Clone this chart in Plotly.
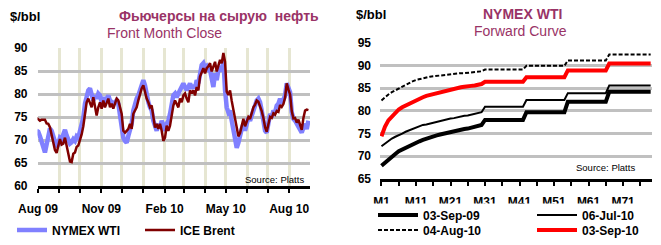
import pandas as pd
import plotly.graph_objects as go

W, H = 661, 245
FONT = "Liberation Sans, Arial, sans-serif"
TITLE_COLOR = "#993366"

# ---------------- Left chart: front month close ----------------
wti = [
    72.0, 71.8, 70.8, 69.5, 68.0, 67.3, 69.0, 71.5, 72.5, 72.0,
    70.8, 69.5, 68.5, 69.0, 70.5, 70.2, 71.5, 72.2, 71.0, 70.0,
    69.2, 69.5, 70.2, 69.8, 70.8, 70.5, 71.8, 73.2, 74.9, 77.9,
    79.7, 80.8, 81.2, 79.7, 78.6, 79.7, 79.0, 80.1, 79.7, 78.2,
    79.3, 78.2, 79.3, 79.7, 78.6, 78.2, 77.9, 78.2, 78.6, 77.9,
    74.9, 72.7, 70.5, 69.8, 69.4, 70.9, 72.0, 73.5, 76.4, 78.2,
    79.0, 79.7, 80.8, 82.3, 83.0, 81.9, 79.7, 78.2, 77.1, 76.4,
    74.2, 73.1, 72.0, 73.5, 72.7, 74.2, 72.7, 72.0, 73.5, 74.2,
    75.7, 77.9, 79.7, 80.1, 79.3, 80.1, 80.8, 81.2, 82.3, 81.5,
    80.8, 81.5, 82.3, 81.2, 81.9, 81.2, 83.0, 82.3, 84.5, 86.3,
    86.7, 85.6, 86.0, 85.2,
    85.2, 83.8, 81.5, 84.5, 83.0, 85.2, 86.0, 84.9, 87.4, 80.8,
    77.1, 76.0, 76.4, 74.2, 72.0, 69.8, 68.3, 69.4, 71.3, 72.4,
    73.5, 72.0, 73.5, 74.9, 74.2, 75.3, 76.8, 78.2, 78.6, 79.0,
    78.2, 76.4, 74.2, 72.0, 71.6, 74.2, 75.7, 74.9, 76.4, 76.0,
    77.5, 77.9, 79.0, 77.9, 78.6, 79.7, 82.3, 81.2, 80.4, 76.0,
    74.6, 74.2, 73.5, 73.1, 72.0, 71.6, 72.7, 73.5, 72.4, 74.2,
]
brent = [
    74.8, 74.5, 74.2, 74.4, 74.4, 74.4, 73.6, 73.5, 72.8, 71.3,
    69.8, 67.8, 67.2, 68.8, 70.2, 69.0, 69.2, 70.5, 68.8, 67.0,
    65.3, 65.2, 67.0, 67.3, 68.5, 68.8, 69.8, 71.2, 73.0, 76.2,
    78.2, 79.0, 78.2, 77.1, 79.3, 77.5, 75.3, 77.1, 78.2, 76.8,
    78.6, 77.1, 78.2, 79.0, 77.1, 77.9, 76.8, 78.2, 79.0, 78.6,
    77.1, 75.7, 72.0, 71.6, 72.0, 72.4, 73.5, 72.4, 75.7, 76.4,
    77.1, 78.6, 80.1, 81.2, 81.9, 80.4, 79.0, 78.2, 77.1, 77.5,
    74.9, 72.7, 73.5, 72.4, 73.5, 72.0, 69.8, 70.5, 73.1, 72.0,
    73.1, 75.7, 77.5, 78.6, 77.9, 77.1, 79.0, 78.2, 79.7, 80.1,
    79.0, 78.2, 80.8, 80.1, 80.8, 79.7, 81.5, 80.8, 83.8, 84.9,
    85.6, 84.5, 85.6, 86.0,
    86.7, 84.9, 86.0, 87.0, 84.9, 86.3, 87.4, 86.7, 88.9, 87.0,
    80.5, 79.8, 80.8, 78.5, 76.4, 74.5, 72.8, 70.8, 71.5, 73.5,
    74.6, 73.0, 74.2, 75.0, 74.6, 75.8, 77.1, 77.7, 78.6, 78.3,
    77.3, 76.3, 74.8, 72.8, 71.8, 73.8, 75.0, 74.8, 75.8, 75.5,
    76.3, 76.1, 77.6, 77.2, 77.8, 79.2, 82.3, 81.0, 79.9, 76.3,
    74.7, 74.8, 73.8, 74.4, 73.0, 72.2, 74.8, 76.4, 76.6, 76.5,
]
dates = pd.date_range("2009-07-30", "2010-08-29", periods=len(wti))

# ---------------- Right chart: forward curves ----------------
months = list(range(1, 80))
month_ticks = [1, 11, 21, 31, 41, 51, 61, 71]
month_labels = ["M1", "M11", "M21", "M31", "M41", "M51", "M61", "M71"]

fc_03sep09 = [
    67.9, 68.6, 69.3, 69.9, 70.5, 71.1, 71.5, 71.9, 72.3, 72.6,
    72.9, 73.3, 73.6, 73.9, 74.2, 74.4, 74.6, 74.8, 75.0, 75.2,
    75.4, 75.6, 75.8, 75.9, 76.0, 76.1, 76.3, 76.5, 76.7, 76.9,
    78.0, 78.0, 78.0, 78.0, 78.0, 78.0, 78.0, 78.0, 78.0, 78.0, 78.0, 78.0,
    79.7, 79.7, 79.7, 79.7, 79.7, 79.7, 79.7, 79.7, 79.7, 79.7, 79.7, 79.7,
    82.0, 82.0, 82.0, 82.0, 82.0, 82.0, 82.0, 82.0, 82.0, 82.0, 82.0, 82.0,
    84.2, 84.2, 84.2, 84.2, 84.2, 84.2, 84.2, 84.2, 84.2, 84.2, 84.2, 84.2, 84.2,
]
fc_06jul10 = [
    72.2, 72.8, 73.4, 73.9, 74.3, 74.6, 75.0, 75.4, 75.7, 76.0,
    76.3, 76.6, 76.9, 77.0, 77.2, 77.4, 77.5, 77.7, 77.9, 78.1,
    78.3, 78.4, 78.6, 78.7, 78.9, 79.0, 79.2, 79.4, 79.5, 79.7,
    80.9, 80.9, 80.9, 80.9, 80.9, 80.9, 80.9, 80.9, 80.9, 80.9, 80.9, 80.9,
    82.4, 82.4, 82.4, 82.4, 82.4, 82.4, 82.4, 82.4, 82.4, 82.4, 82.4, 82.4,
    83.9, 83.9, 83.9, 83.9, 83.9, 83.9, 83.9, 83.9, 83.9, 83.9, 83.9, 83.9,
    85.6, 85.6, 85.6, 85.6, 85.6, 85.6, 85.6, 85.6, 85.6, 85.6, 85.6, 85.6, 85.6,
]
fc_04aug10 = [
    82.3, 83.0, 83.6, 84.1, 84.5, 85.0, 85.4, 85.8, 86.2, 86.5,
    86.8, 87.0, 87.2, 87.4, 87.5, 87.6, 87.7, 87.8, 87.9, 88.0,
    88.0, 88.1, 88.2, 88.3, 88.3, 88.4, 88.4, 88.5, 88.6, 88.7,
    89.1, 89.1, 89.1, 89.1, 89.1, 89.1, 89.1, 89.1, 89.1, 89.1, 89.1, 89.1,
    89.9, 89.9, 89.9, 89.9, 89.9, 89.9, 89.9, 89.9, 89.9, 89.9, 89.9, 89.9,
    91.1, 91.1, 91.1, 91.1, 91.1, 91.1, 91.1, 91.1, 91.1, 91.1, 91.1, 91.1,
    92.4, 92.4, 92.4, 92.4, 92.4, 92.4, 92.4, 92.4, 92.4, 92.4, 92.4, 92.4, 92.4,
]
fc_03sep10 = [
    74.4, 76.5, 77.9, 78.8, 79.6, 80.3, 80.8, 81.2, 81.6, 82.0,
    82.4, 82.7, 83.0, 83.3, 83.5, 83.8, 84.0, 84.2, 84.4, 84.6,
    84.8, 84.9, 85.0, 85.2, 85.3, 85.5, 85.5, 85.6, 85.7, 85.9,
    86.4, 86.4, 86.4, 86.4, 86.4, 86.4, 86.4, 86.4, 86.4, 86.4, 86.4, 86.4,
    87.4, 87.4, 87.4, 87.4, 87.4, 87.4, 87.4, 87.4, 87.4, 87.4, 87.4, 87.4,
    88.9, 88.9, 88.9, 88.9, 88.9, 88.9, 88.9, 88.9, 88.9, 88.9, 88.9, 88.9,
    90.4, 90.4, 90.4, 90.4, 90.4, 90.4, 90.4, 90.4, 90.4, 90.4, 90.4, 90.4, 90.4,
]


def px(x):
    return x / W


def py(y):
    return 1 - y / H


fig = go.Figure()

fig.add_trace(go.Scatter(x=dates, y=wti, name="NYMEX WTI", mode="lines",
                         line=dict(color="#8080ff", width=4.5),
                         xaxis="x", yaxis="y", legend="legend"))
fig.add_trace(go.Scatter(x=dates, y=brent, name="ICE Brent", mode="lines",
                         line=dict(color="#800000", width=2.5),
                         xaxis="x", yaxis="y", legend="legend"))

fig.add_trace(go.Scatter(x=months, y=fc_03sep09, name="03-Sep-09", mode="lines",
                         line=dict(color="black", width=4),
                         xaxis="x2", yaxis="y2", legend="legend2"))
fig.add_trace(go.Scatter(x=months, y=fc_06jul10, name="06-Jul-10", mode="lines",
                         line=dict(color="black", width=2),
                         xaxis="x2", yaxis="y2", legend="legend2"))
fig.add_trace(go.Scatter(x=months, y=fc_04aug10, name="04-Aug-10", mode="lines",
                         line=dict(color="black", width=2, dash="4px,2px"),
                         xaxis="x2", yaxis="y2", legend="legend3"))
fig.add_trace(go.Scatter(x=months, y=fc_03sep10, name="03-Sep-10", mode="lines",
                         line=dict(color="#ff0000", width=4),
                         xaxis="x2", yaxis="y2", legend="legend3"))

tickfont = dict(family=FONT, size=12, color="black", weight="bold")
legfont = dict(family=FONT, size=12, color="black", weight="bold")

fig.update_layout(
    width=W, height=H,
    margin=dict(l=0, r=0, t=0, b=0, autoexpand=False),
    paper_bgcolor="white", plot_bgcolor="white",
    font=dict(family=FONT),
    xaxis=dict(
        domain=[px(37.5), px(310)],
        type="date",
        range=["2009-07-31 07:00", "2010-08-31 07:00"],
        tick0="2009-08-01", dtick="M3", tickformat="%b %y",
        showgrid=True, gridcolor="#e6e6d2", gridwidth=3,
        ticks="outside", ticklen=4, tickwidth=2, tickcolor="black",
        minor=dict(dtick="M1", tick0="2009-08-01", showgrid=True,
                   gridcolor="#e6e6d2", gridwidth=3,
                   ticks="outside", ticklen=4, tickwidth=2, tickcolor="black"),
        showline=True, linecolor="black", linewidth=2.5,
        tickfont=tickfont, ticklabelstandoff=6,
        anchor="y", zeroline=False,
    ),
    yaxis=dict(
        domain=[py(186), py(48)],
        range=[60, 90], dtick=5,
        showgrid=True, gridcolor="#c0c0c0", gridwidth=2.5,
        zeroline=False, showline=False,
        tickfont=tickfont, ticklabelstandoff=9,
        anchor="x",
    ),
    xaxis2=dict(
        domain=[px(380), px(651.7)],
        range=[0.57, 79.3],
        tickvals=month_ticks, ticktext=month_labels,
        showgrid=False, zeroline=False,
        ticks="outside", ticklen=4, tickwidth=2, tickcolor="black",
        minor=dict(tick0=1, dtick=5, ticks="outside", ticklen=4,
                   tickwidth=2, tickcolor="black", showgrid=False),
        showline=True, linecolor="black", linewidth=2.5,
        tickfont=tickfont, ticklabelstandoff=6,
        anchor="y2",
    ),
    yaxis2=dict(
        domain=[py(179), py(42.7)],
        range=[65, 95], dtick=5,
        showgrid=True, gridcolor="#c0c0c0", gridwidth=2.5,
        zeroline=False, showline=False,
        tickfont=tickfont, ticklabelstandoff=8,
        anchor="x2",
    ),
    legend=dict(orientation="h", x=px(12), y=py(230), xanchor="left", yanchor="middle",
                font=legfont, bgcolor="rgba(0,0,0,0)", entrywidth=83,
                itemwidth=30),
    legend2=dict(orientation="h", x=px(373), y=py(215), xanchor="left", yanchor="middle",
                 font=legfont, bgcolor="rgba(0,0,0,0)", entrywidth=104,
                 itemwidth=40),
    legend3=dict(orientation="h", x=px(373), y=py(230), xanchor="left", yanchor="middle",
                 font=legfont, bgcolor="rgba(0,0,0,0)", entrywidth=104,
                 itemwidth=40),
    shapes=[
        dict(type="rect", xref="paper", yref="paper", layer="above",
             x0=px(360), x1=1, y0=0, y1=py(203.5),
             fillcolor="white", line=dict(width=0)),
    ],
)

annots = [
    dict(text="$/bbl", x=px(8), y=py(16), xanchor="left", yanchor="middle",
         font=dict(family=FONT, size=13, color="black", weight="bold")),
    dict(text="Фьючерсы на сырую  нефть", x=px(219), y=py(16), xanchor="center", yanchor="middle",
         font=dict(family=FONT, size=14, color=TITLE_COLOR, weight="bold")),
    dict(text="Front Month Close", x=px(164), y=py(33), xanchor="center", yanchor="middle",
         font=dict(family=FONT, size=14, color=TITLE_COLOR)),
    dict(text="Source: Platts", x=px(306), y=py(179), xanchor="right", yanchor="middle",
         font=dict(family=FONT, size=9.5, color="black")),
    dict(text="$/bbl", x=px(354), y=py(15), xanchor="left", yanchor="middle",
         font=dict(family=FONT, size=13, color="black", weight="bold")),
    dict(text="NYMEX WTI", x=px(522), y=py(14), xanchor="center", yanchor="middle",
         font=dict(family=FONT, size=14, color=TITLE_COLOR, weight="bold")),
    dict(text="Forward Curve", x=px(520), y=py(31), xanchor="center", yanchor="middle",
         font=dict(family=FONT, size=14, color=TITLE_COLOR)),
    dict(text="Source: Platts", x=px(637), y=py(167), xanchor="right", yanchor="middle",
         font=dict(family=FONT, size=9.5, color="black")),
]
for a in annots:
    a.update(xref="paper", yref="paper", showarrow=False)
fig.update_layout(annotations=annots)

fig.write_html("out.html")
